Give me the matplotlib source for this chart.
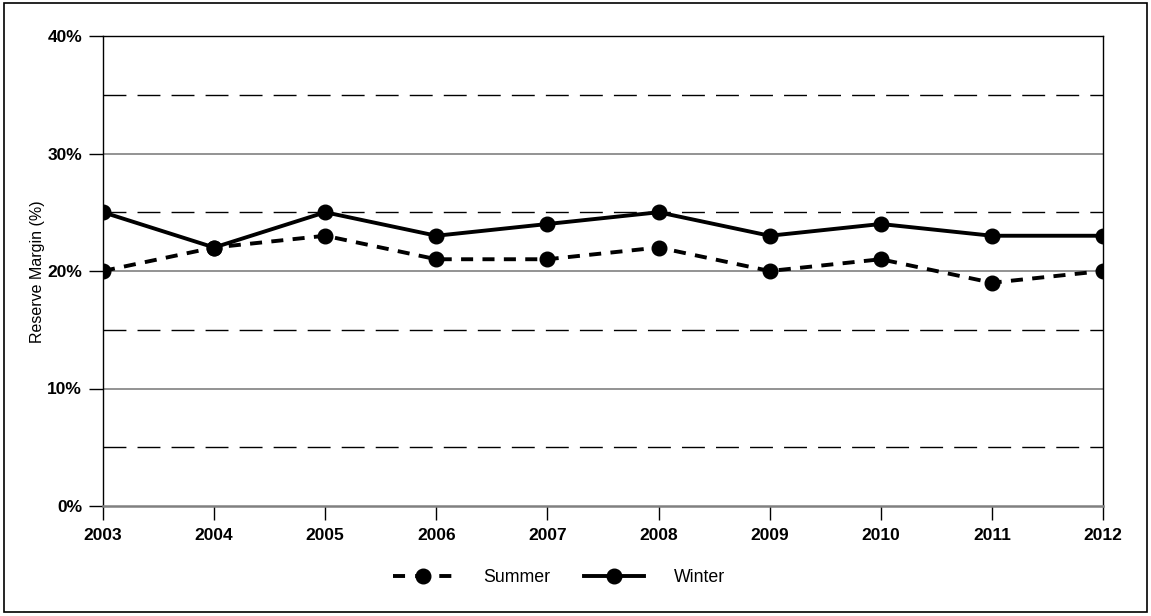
import matplotlib
matplotlib.use("Agg")
import matplotlib.pyplot as plt
from matplotlib.patches import Rectangle
from matplotlib.ticker import FixedLocator, FuncFormatter

years = [2003, 2004, 2005, 2006, 2007, 2008, 2009, 2010, 2011, 2012]
summer = [20, 22, 23, 21, 21, 22, 20, 21, 19, 20]
winter = [25, 22, 25, 23, 24, 25, 23, 24, 23, 23]
major_ticks = [0, 10, 20, 30, 40]
minor_ticks = [5, 15, 25, 35]

plt.rcParams['font.family'] = ['Liberation Sans', 'DejaVu Sans']

fig = plt.figure(figsize=(11.51, 6.16), dpi=100)
ax = fig.add_axes([103/1151, 1-506/616, 1000/1151, 470/616])

for y in major_ticks[1:-1]:
    ax.axhline(y, color='#808080', lw=1.2, zorder=1)
for y in minor_ticks:
    ax.axhline(y, color='black', lw=1.0, dashes=(16.5, 8), zorder=1)

ax.plot(years, summer, color='black', lw=2.8, dashes=(3.1, 2.4), marker='o',
        markersize=10.5, label='Summer', zorder=3)
ax.plot(years, winter, color='black', lw=2.8, marker='o',
        markersize=10.5, label='Winter', zorder=3)

ax.set_xlim(years[0], years[-1])
ax.set_ylim(0, 40)
ax.yaxis.set_major_locator(FixedLocator(major_ticks))
ax.yaxis.set_major_formatter(FuncFormatter(lambda v, p: f"{int(v)}%"))
ax.set_xticks(years)
ax.tick_params(axis='both', direction='out', length=10, width=1, labelsize=12.5)
ax.tick_params(axis='y', pad=5)
ax.tick_params(axis='x', pad=6)
for lab in ax.get_xticklabels() + ax.get_yticklabels():
    lab.set_fontweight('bold')

for s in ['left', 'right', 'top']:
    ax.spines[s].set_color('black')
    ax.spines[s].set_linewidth(1.0)
ax.spines['bottom'].set_color('#808080')
ax.spines['bottom'].set_linewidth(1.8)

fig.text(38/1151, 1-272/616, 'Reserve Margin (%)', rotation=90, ha='center',
         va='center', fontsize=11.5)

leg = fig.legend(*ax.get_legend_handles_labels(), loc='center',
                 bbox_to_anchor=(559/1151, 1-578/616), bbox_transform=fig.transFigure,
                 ncol=2, frameon=False, fontsize=12.8, handlelength=3.4,
                 handletextpad=1.65, columnspacing=1.9)
leg.legend_handles[0].set_dashes((3.1, 2.6, 3.6, 2.6))

fig.patches.append(Rectangle((4/1151, 4/616), 1143/1151, 609/616, transform=fig.transFigure,
                             fill=False, edgecolor='black', lw=1.2))

fig.savefig('out.png', dpi=100)
